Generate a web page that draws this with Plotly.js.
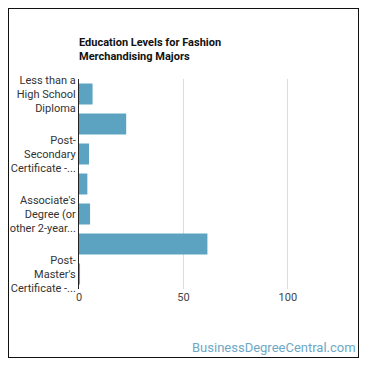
<!DOCTYPE html>
<html>
<head>
<meta charset="utf-8">
<script src="https://cdn.plot.ly/plotly-3.0.1.min.js"></script>
<style>
html,body{margin:0;padding:0;background:#fff;}
#wrap{position:relative;width:370px;height:370px;}
#chart{width:370px;height:370px;}
#frame{position:absolute;left:8px;top:8px;width:349px;height:348px;border:1.5px solid #111;pointer-events:none;}
</style>
</head>
<body>
<div id="wrap"><div id="chart"></div><div id="frame"></div></div>
<script>
const categories = [
  "Less than a High School Diploma",
  "High School Diploma",
  "Post-Secondary Certificate - Awarded for training completed after high school",
  "Some College Courses",
  "Associate's Degree (or other 2-year degree)",
  "Bachelor's Degree",
  "Post-Master's Certificate - awarded for completion of an organized program of study"
];
const values = [6.5, 22.6, 4.8, 4.0, 5.3, 61.5, 0.5];
const tickCats = [categories[0], categories[2], categories[4], categories[6]];
const tickLabels = [
  "Less than a<br>High School<br>Diploma",
  "Post-<br>Secondary<br>Certificate -...",
  "Associate's<br>Degree (or<br>other 2-year...",
  "Post-<br>Master's<br>Certificate -..."
];
const xTicks = [0, 50, 100];
const titleText = "Education Levels for Fashion<br>Merchandising Majors";
const watermark = "BusinessDegreeCentral.com";

const trace = {
  type: "bar",
  orientation: "h",
  y: categories,
  x: values,
  marker: {color: "#5ba3c1", line: {width: 0}},
  hoverinfo: "none"
};

const layout = {
  width: 370, height: 370,
  margin: {l: 79, r: 30, t: 79, b: 81},
  paper_bgcolor: "#fff", plot_bgcolor: "#fff",
  bargap: 0.3,
  font: {family: "Roboto, sans-serif", color: "#333", size: 11},
  title: {
    text: "<b>" + titleText + "</b>",
    font: {family: "Roboto, sans-serif", size: 11, color: "#111"},
    xref: "container", x: 79/370, xanchor: "left",
    yref: "container", y: 1 - 46/370, yanchor: "top"
  },
  xaxis: {
    range: [0, 125],
    tickvals: xTicks,
    ticktext: xTicks.map(String),
    showgrid: true, gridcolor: "#dcdcdc", gridwidth: 1,
    zeroline: false, showline: false, ticks: "",
    tickfont: {size: 11, color: "#444"},
    fixedrange: true
  },
  yaxis: {
    type: "category",
    categoryorder: "array", categoryarray: categories,
    autorange: "reversed",
    tickvals: tickCats, ticktext: tickLabels,
    showgrid: false, zeroline: false,
    showline: true, linecolor: "#222", linewidth: 1,
    ticks: "", ticklabelstandoff: 0,
    tickfont: {size: 11, color: "#333"},
    fixedrange: true
  },
  annotations: [{
    text: watermark,
    xref: "paper", yref: "paper",
    x: (358 - 79) / 261, xanchor: "right",
    y: (289 - 347) / 210, yanchor: "middle",
    showarrow: false,
    font: {family: "Roboto, sans-serif", size: 13, color: "#6ea8c6"}
  }],
  showlegend: false
};

Plotly.newPlot("chart", [trace], layout, {displayModeBar: false, staticPlot: true});
</script>
</body>
</html>
